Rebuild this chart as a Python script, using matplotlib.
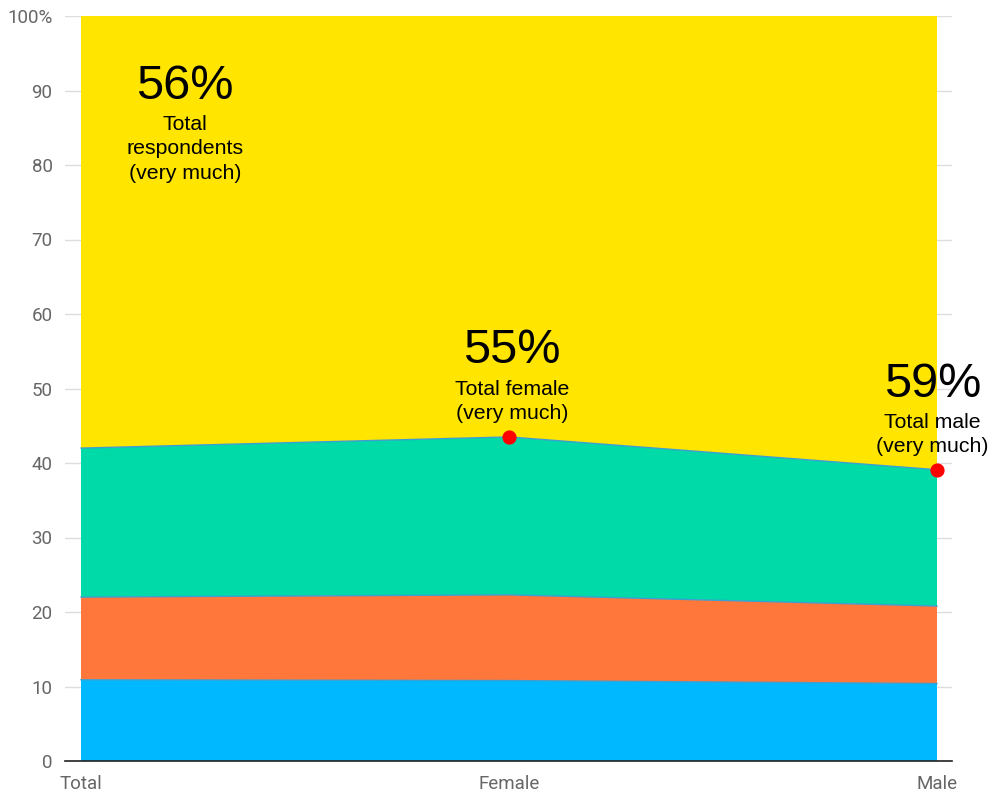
import matplotlib.pyplot as plt
import numpy as np

groups = ['Total', 'Female', 'Male']
blue = [10.9, 10.8, 10.4]
orange = [11.1, 11.5, 10.4]
green = [20.0, 21.2, 18.3]
yellow = [58.0, 56.5, 60.9]
colors = ['#00B8FF', '#FF773A', '#00D9A8', '#FFE500']

labels_big = ['56%', '55%', '59%']
labels_small = ['Total\nrespondents\n(very much)', 'Total female\n(very much)', 'Total male\n(very much)']
dot_groups = [1, 2]

fig = plt.figure(figsize=(9.96, 7.94), dpi=100, facecolor='white')
ax = fig.add_axes([65/996, 33/794, (952-65)/996, (761-16)/794])

x = np.arange(len(groups))
layers = np.vstack([blue, orange, green, yellow])
ax.stackplot(x, layers, colors=colors, zorder=2)
tops = np.cumsum(layers, axis=0)
for t in tops[:3]:
    ax.plot(x, t, color='#3D9FD0', lw=1, zorder=3)

ax.scatter(x[dot_groups], tops[2][dot_groups], s=85, color='#FF0000', zorder=5)

ax.set_xlim(-16/428, 2 + 15/428)
ax.set_ylim(0, 100)
ax.set_yticks(range(0, 101, 10))
ax.set_yticklabels([str(v) for v in range(0, 100, 10)] + ['100%'])
ax.set_xticks(x)
ax.set_xticklabels(groups)
ax.grid(axis='y', color='#DDDDDD', lw=1, zorder=0)
for s in ['top', 'right', 'left']:
    ax.spines[s].set_visible(False)
ax.spines['bottom'].set_color('#222222')
ax.spines['bottom'].set_linewidth(1.2)
ax.spines['bottom'].set_zorder(6)
ax.tick_params(axis='both', length=0, labelsize=13.5, labelcolor='#666666')
ax.tick_params(axis='y', pad=9)
ax.tick_params(axis='x', pad=10)
for lbl in ax.get_xticklabels() + ax.get_yticklabels():
    lbl.set_family('Roboto')

# annotation positions in data coords
big_pos = [(0.243, 90.6), (1.007, 55.1), (1.99, 50.6)]
for (bx, by), big, small in zip(big_pos, labels_big, labels_small):
    ax.text(bx, by, big, ha='center', va='center', fontsize=35,
            family='Liberation Sans', zorder=7)
    ax.text(bx, by - 3.9, small, ha='center', va='top', fontsize=15.3,
            family='Liberation Sans', linespacing=1.36, zorder=7)

fig.savefig('out.png', dpi=100)
